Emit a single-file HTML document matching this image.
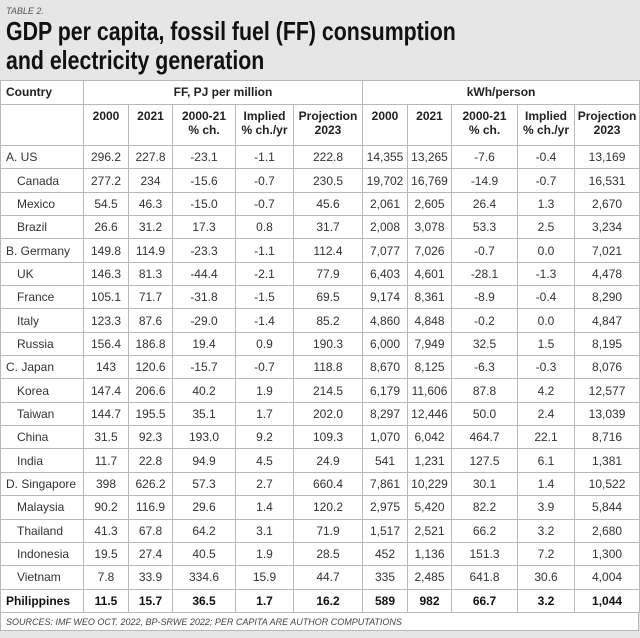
<!DOCTYPE html>
<html><head><meta charset="utf-8"><style>
body{margin:0;width:640px;height:638px;background:#e6e6e6;overflow:hidden;font-family:"Liberation Sans Narrow","Liberation Sans",sans-serif;color:#222;position:relative}
.tag{position:absolute;left:6px;top:6px;font-size:9px;font-style:italic;color:#555}
.title{position:absolute;left:6px;top:17px;font-family:"Liberation Sans",sans-serif;font-weight:bold;font-size:26px;line-height:29px;color:#111;transform:scaleX(0.82);transform-origin:left top;white-space:nowrap}
table{position:absolute;left:0;top:80px;width:639px;border-collapse:collapse;table-layout:fixed;background:#fff}
td,th{border:1px solid #b8b8b8;font-size:12px;text-align:center;padding:0;white-space:nowrap;overflow:hidden}
th{font-weight:bold;font-size:12px;line-height:14px;vertical-align:top;padding-top:4px}
tr.d td{height:22.35px;font-weight:normal;color:#333}
tr.g td{border-top:1px solid #777}
td.c{text-align:left;padding-left:5px}
td.i{padding-left:16px}
tr.b td{font-weight:bold;color:#111}
.foot{position:absolute;left:0;top:612px;height:19px;background:#fff;border:1px solid #b8b8b8;font-size:9px;font-style:italic;color:#444;line-height:19px;padding-left:5px;box-sizing:border-box;width:639px}
</style></head><body>
<div class="tag">TABLE 2.</div>
<div class="title">GDP per capita, fossil fuel (FF) consumption<br>and electricity generation</div>
<table>
<colgroup><col style="width:83px"><col style="width:45px"><col style="width:44px"><col style="width:63px"><col style="width:58px"><col style="width:69px"><col style="width:45px"><col style="width:44px"><col style="width:66px"><col style="width:57px"><col style="width:65px"></colgroup>
<tr><th style="text-align:left;padding-left:5px;height:19px" rowspan="1">Country</th><th colspan="5">FF, PJ per million</th><th colspan="5">kWh/person</th></tr>
<tr><th style="height:36px"></th><th>2000</th><th>2021</th><th>2000-21<br>% ch.</th><th>Implied<br>% ch./yr</th><th>Projection<br>2023</th><th>2000</th><th>2021</th><th>2000-21<br>% ch.</th><th>Implied<br>% ch./yr</th><th>Projection<br>2023</th></tr>
<tbody id="tb"></tbody>
</table>
<div class="foot">SOURCES: IMF WEO OCT. 2022, BP-SRWE 2022; PER CAPITA ARE AUTHOR COMPUTATIONS</div>
<script>
const countries=["A. US","Canada","Mexico","Brazil","B. Germany","UK","France","Italy","Russia","C. Japan","Korea","Taiwan","China","India","D. Singapore","Malaysia","Thailand","Indonesia","Vietnam","Philippines"];
const ff2000=["296.2","277.2","54.5","26.6","149.8","146.3","105.1","123.3","156.4","143","147.4","144.7","31.5","11.7","398","90.2","41.3","19.5","7.8","11.5"];
const ff2021=["227.8","234","46.3","31.2","114.9","81.3","71.7","87.6","186.8","120.6","206.6","195.5","92.3","22.8","626.2","116.9","67.8","27.4","33.9","15.7"];
const ffPct=["-23.1","-15.6","-15.0","17.3","-23.3","-44.4","-31.8","-29.0","19.4","-15.7","40.2","35.1","193.0","94.9","57.3","29.6","64.2","40.5","334.6","36.5"];
const ffYr=["-1.1","-0.7","-0.7","0.8","-1.1","-2.1","-1.5","-1.4","0.9","-0.7","1.9","1.7","9.2","4.5","2.7","1.4","3.1","1.9","15.9","1.7"];
const ffProj=["222.8","230.5","45.6","31.7","112.4","77.9","69.5","85.2","190.3","118.8","214.5","202.0","109.3","24.9","660.4","120.2","71.9","28.5","44.7","16.2"];
const kw2000=["14,355","19,702","2,061","2,008","7,077","6,403","9,174","4,860","6,000","8,670","6,179","8,297","1,070","541","7,861","2,975","1,517","452","335","589"];
const kw2021=["13,265","16,769","2,605","3,078","7,026","4,601","8,361","4,848","7,949","8,125","11,606","12,446","6,042","1,231","10,229","5,420","2,521","1,136","2,485","982"];
const kwPct=["-7.6","-14.9","26.4","53.3","-0.7","-28.1","-8.9","-0.2","32.5","-6.3","87.8","50.0","464.7","127.5","30.1","82.2","66.2","151.3","641.8","66.7"];
const kwYr=["-0.4","-0.7","1.3","2.5","0.0","-1.3","-0.4","0.0","1.5","-0.3","4.2","2.4","22.1","6.1","1.4","3.9","3.2","7.2","30.6","3.2"];
const kwProj=["13,169","16,531","2,670","3,234","7,021","4,478","8,290","4,847","8,195","8,076","12,577","13,039","8,716","1,381","10,522","5,844","2,680","1,300","4,004","1,044"];
const tb=document.getElementById('tb');
countries.forEach((c,i)=>{
  const tr=document.createElement('tr');
  
  
  tr.className='d'+(/^[A-D]\./.test(c)?' g':'')+(c==='Philippines'?' b g':'');
  const vals=[c,ff2000[i],ff2021[i],ffPct[i],ffYr[i],ffProj[i],kw2000[i],kw2021[i],kwPct[i],kwYr[i],kwProj[i]];
  vals.forEach((v,j)=>{
    const td=document.createElement('td');
    
    
    if(j===0){td.className='c'+(/^[A-D]\./.test(c)||c==='Philippines'?'':' i');}
    td.textContent=v;tr.appendChild(td);
  });
  tb.appendChild(tr);
});
</script>
</body></html>
